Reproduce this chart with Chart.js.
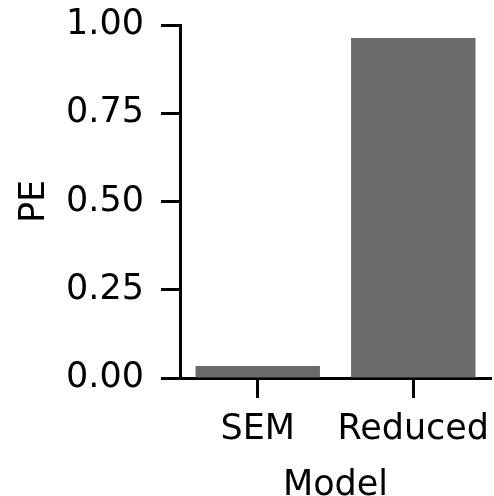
<!DOCTYPE html>
<html>
<head>
<meta charset="utf-8">
<script src="https://cdn.jsdelivr.net/npm/chart.js@4"></script>
<style>
  body { margin: 0; background: #fff; }
  canvas { display: block; }
</style>
</head>
<body>
<canvas id="myChart" width="494" height="496"></canvas>
<script>
const models = ['SEM', 'Reduced'];
const peValues = [0.034, 0.963];
const yTicks = [0, 0.25, 0.5, 0.75, 1.0];

const fontFamily = '"DejaVu Sans", sans-serif';

const ctx = document.getElementById('myChart').getContext('2d');
const myChart = new Chart(ctx, {
    type: 'bar',
    data: {
        labels: models,
        datasets: [{
            label: 'PE',
            data: peValues,
            backgroundColor: '#6a6a6a',
            borderWidth: 0,
            barPercentage: 0.8,
            categoryPercentage: 1.0
        }]
    },
    options: {
        responsive: false,
        animation: false,
        layout: { padding: { top: 25, right: 3, left: 0, bottom: 0 } },
        plugins: {
            legend: { display: false },
            tooltip: { enabled: false }
        },
        scales: {
            x: {
                grid: {
                    offset: false,
                    drawOnChartArea: false,
                    tickLength: 20,
                    tickWidth: 3,
                    tickColor: '#000'
                },
                border: { display: true, color: '#000', width: 3 },
                ticks: {
                    color: '#000',
                    padding: 11,
                    autoSkip: false,
                    maxRotation: 0,
                    minRotation: 0,
                    font: { family: fontFamily, size: 35 }
                },
                title: {
                    display: true,
                    text: 'Model',
                    color: '#000',
                    padding: { top: 0, bottom: 0 },
                    font: { family: fontFamily, size: 35, lineHeight: 0.56 }
                },
                afterFit: function(scale) {
                    scale.height = 118;
                    scale.paddingLeft = 0;
                    scale.paddingRight = 0;
                }
            },
            y: {
                min: 0,
                max: 1,
                afterBuildTicks: function(scale) {
                    scale.ticks = yTicks.map(v => ({ value: v }));
                },
                grid: {
                    drawOnChartArea: false,
                    tickLength: 19,
                    tickWidth: 3,
                    tickColor: '#000'
                },
                border: { display: true, color: '#000', width: 3 },
                ticks: {
                    color: '#000',
                    padding: 17,
                    font: { family: fontFamily, size: 35 },
                    callback: function(v) { return Number(v).toFixed(2); }
                },
                title: {
                    display: true,
                    text: 'PE',
                    color: '#000',
                    padding: { top: 14, bottom: 4 },
                    font: { family: fontFamily, size: 35 }
                },
                afterFit: function(scale) {
                    scale.width = 180;
                    scale.paddingTop = 0;
                    scale.paddingBottom = 0;
                }
            }
        }
    }
});
</script>
</body>
</html>
